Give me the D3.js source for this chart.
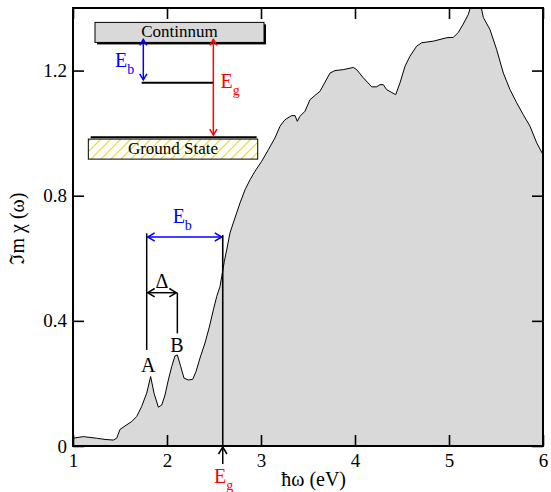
<!DOCTYPE html>
<html>
<head>
<meta charset="UTF-8">
<title>Im chi</title>
<script src="https://d3js.org/d3.v7.min.js"></script>
<style>
  body { margin: 0; background: #fff; }
</style>
</head>
<body>
<div id="chart"></div>
<script>
// spectrum
const energy = [1.0, 1.11, 1.25, 1.34, 1.43, 1.465, 1.5, 1.553, 1.624, 1.677, 1.73, 1.784, 1.826,
  1.862, 1.908, 1.944, 1.979, 2.014, 2.05, 2.085, 2.11, 2.146, 2.181, 2.227, 2.273, 2.309, 2.351,
  2.404, 2.45, 2.493, 2.529, 2.564, 2.582, 2.61, 2.635, 2.67, 2.705, 2.741, 2.777, 2.83, 2.883,
  2.936, 3.007, 3.078, 3.149, 3.202, 3.255, 3.326, 3.362, 3.386, 3.415, 3.468, 3.521,
  3.628, 3.734, 3.787, 3.876, 3.982, 4.018, 4.088, 4.178, 4.231, 4.266, 4.301, 4.337, 4.433,
  4.479, 4.532, 4.585, 4.656, 4.71, 4.833, 4.976, 5.046, 5.099, 5.152, 5.205, 5.245, 5.28,
  5.33, 5.365, 5.436, 5.507, 5.578, 5.649, 5.72, 5.79, 5.862, 5.933, 6.0];
const chi = [0.025, 0.030, 0.025, 0.021, 0.019, 0.025, 0.053, 0.064, 0.078, 0.094, 0.126, 0.169, 0.222,
  0.169, 0.124, 0.131, 0.163, 0.211, 0.254, 0.288, 0.291, 0.254, 0.217, 0.211, 0.213, 0.238, 0.281,
  0.329, 0.38, 0.435, 0.478, 0.51, 0.542, 0.59, 0.627, 0.681, 0.713, 0.745, 0.777, 0.819, 0.851,
  0.878, 0.91, 0.947, 0.985, 1.022, 1.043, 1.056, 1.056, 1.038, 1.054, 1.07, 1.107,
  1.134, 1.192, 1.2, 1.203, 1.21, 1.203, 1.177, 1.148, 1.148, 1.155, 1.155, 1.139, 1.123,
  1.161, 1.214, 1.246, 1.278, 1.289, 1.294, 1.305, 1.306, 1.322, 1.349, 1.379, 1.42, 1.43,
  1.42, 1.37, 1.331, 1.267, 1.192, 1.139, 1.097, 1.059, 1.022, 0.969, 0.931];

const xTicks = [1, 2, 3, 4, 5, 6];
const yTicks = [0, 0.4, 0.8, 1.2];
const yTickLabels = ["0", "0.4", "0.8", "1.2"];

// annotation positions (data units)
const peakA = 1.784, peakB = 2.11, gapE = 2.593;
const ebLevel = 0.668, deltaLevel = 0.49;

const FONT = '"Liberation Serif"';
const width = 551, height = 492;
const margin = {top: 8, right: 8, bottom: 46, left: 73};

const x = d3.scaleLinear().domain([1, 6]).range([margin.left, width - margin.right]);
const y = d3.scaleLinear().domain([0, 1.4]).range([height - margin.bottom, margin.top]);

const svg = d3.select('#chart').append('svg')
  .attr('width', width).attr('height', height);

const defs = svg.append('defs');
defs.append('clipPath').attr('id', 'plot')
  .append('rect')
  .attr('x', margin.left).attr('y', margin.top)
  .attr('width', width - margin.left - margin.right)
  .attr('height', height - margin.top - margin.bottom);

const hatch = defs.append('pattern').attr('id', 'hatch')
  .attr('patternUnits', 'userSpaceOnUse').attr('width', 10).attr('height', 10);
hatch.append('path')
  .attr('d', 'M-2,2 L2,-2 M0,10 L10,0 M8,12 L12,8')
  .attr('stroke', '#f2dc00').attr('stroke-width', 1.2);

const pts = energy.map((e, i) => [e, chi[i]]);

const plot = svg.append('g').attr('clip-path', 'url(#plot)');
plot.append('path')
  .datum(pts)
  .attr('fill', '#d9d9d9')
  .attr('d', d3.area().x(d => x(d[0])).y0(y(0)).y1(d => y(d[1])));
plot.append('path')
  .datum(pts)
  .attr('fill', 'none').attr('stroke', '#000').attr('stroke-width', 1)
  .attr('d', d3.line().x(d => x(d[0])).y(d => y(d[1])));

// axes
const tickLen = 11;
svg.append('g')
  .attr('transform', `translate(0,${y(0)})`)
  .call(d3.axisBottom(x).tickValues(xTicks).tickFormat(d3.format('d'))
    .tickSizeInner(-tickLen).tickSizeOuter(0).tickPadding(8));
svg.append('g')
  .attr('transform', `translate(${x(1)},0)`)
  .call(d3.axisLeft(y).tickValues(yTicks).tickFormat((d, i) => yTickLabels[i])
    .tickSizeInner(-tickLen).tickSizeOuter(0).tickPadding(6));
svg.append('g')
  .attr('transform', `translate(0,${y(1.4)})`)
  .call(d3.axisTop(x).tickValues(xTicks).tickFormat('')
    .tickSizeInner(-tickLen).tickSizeOuter(0));
svg.append('g')
  .attr('transform', `translate(${x(6)},0)`)
  .call(d3.axisRight(y).tickValues(yTicks).tickFormat('')
    .tickSizeInner(-tickLen).tickSizeOuter(0));

svg.selectAll('.domain').remove();
svg.selectAll('.tick line').attr('stroke', '#000').attr('stroke-width', 1.6);
svg.selectAll('.tick text').attr('font-size', 19).attr('fill', '#000');

svg.append('rect')
  .attr('x', x(1)).attr('y', y(1.4))
  .attr('width', x(6) - x(1)).attr('height', y(0) - y(1.4))
  .attr('fill', 'none').attr('stroke', '#000').attr('stroke-width', 2);

// axis titles
svg.append('text')
  .attr('x', x(3.56)).attr('y', 486)
  .attr('text-anchor', 'middle').attr('font-size', 20)
  .text('ħω (eV)');
svg.append('text')
  .attr('transform', `translate(24,${y(0.695)}) rotate(-90)`)
  .attr('text-anchor', 'middle').attr('font-size', 20)
  .text('ℑm χ (ω)');

// helpers
function seg(g, x1, y1, x2, y2, color, w) {
  g.append('line').attr('x1', x1).attr('y1', y1).attr('x2', x2).attr('y2', y2)
    .attr('stroke', color).attr('stroke-width', w || 1.5);
}
function head(g, tx, ty, dir, color, s) {
  // open chevron arrow head pointing in dir ('l','r','u','d')
  s = s || 6;
  let p;
  if (dir === 'r') p = [[tx - s, ty - s * 0.6], [tx, ty], [tx - s, ty + s * 0.6]];
  if (dir === 'l') p = [[tx + s, ty - s * 0.6], [tx, ty], [tx + s, ty + s * 0.6]];
  if (dir === 'u') p = [[tx - s * 0.6, ty + s], [tx, ty], [tx + s * 0.6, ty + s]];
  if (dir === 'd') p = [[tx - s * 0.6, ty - s], [tx, ty], [tx + s * 0.6, ty - s]];
  g.append('path').attr('d', d3.line()(p))
    .attr('fill', 'none').attr('stroke', color).attr('stroke-width', 1.5);
}
function label(g, px, py, main, sub, color, size) {
  const t = g.append('text').attr('x', px).attr('y', py)
    .attr('font-size', size).attr('fill', color);
  t.append('tspan').text(main);
  if (sub) t.append('tspan').attr('font-size', size * 0.7).attr('dy', size * 0.35).text(sub);
  return t;
}

const ann = svg.append('g');
const blue = '#0000ff', red = '#ff0000';

// A, B lines
seg(ann, x(peakA), y(0.307), x(peakA), y(0.68), '#000', 1.5);
seg(ann, x(peakB), y(0.36), x(peakB), y(deltaLevel), '#000', 1.5);
// delta arrow
seg(ann, x(peakA) + 1, y(deltaLevel), x(peakB) - 1, y(deltaLevel), '#000', 1.5);
head(ann, x(peakA) + 1, y(deltaLevel), 'l', '#000', 7);
head(ann, x(peakB) - 1, y(deltaLevel), 'r', '#000', 7);
ann.append('text').attr('x', x((peakA + peakB) / 2)).attr('y', y(0.505))
  .attr('text-anchor', 'middle').attr('font-size', 20).text('Δ');
ann.append('text').attr('x', x(1.8)).attr('y', y(0.237))
  .attr('text-anchor', 'middle').attr('font-size', 20).text('A');
ann.append('text').attr('x', x(2.106)).attr('y', y(0.30))
  .attr('text-anchor', 'middle').attr('font-size', 20).text('B');

// Eb arrow
seg(ann, x(peakA) + 1, y(ebLevel), x(gapE) - 1, y(ebLevel), blue, 1.5);
head(ann, x(peakA) + 1, y(ebLevel), 'l', blue, 7);
head(ann, x(gapE) - 1, y(ebLevel), 'r', blue, 7);
label(ann, x(2.06), y(0.712), 'E', 'b', blue, 20);

// Eg line and arrow below axis
seg(ann, x(gapE), y(ebLevel) - 2, x(gapE), y(0), '#000', 1.6);
seg(ann, x(gapE), y(0), x(gapE), y(0) + 18, '#000', 1.5);
head(ann, x(gapE), y(0) + 1, 'u', '#000', 7);
label(ann, x(2.5), 483, 'E', 'g', red, 20);

// inset scheme (data units)
const inset = svg.append('g');
const cx0 = 1.234, cx1 = 3.032, cyTop = 1.354, cyBot = 1.290;
inset.append('rect')
  .attr('x', x(cx0) + 2).attr('y', y(cyTop) + 2)
  .attr('width', x(cx1) - x(cx0)).attr('height', y(cyBot) - y(cyTop))
  .attr('fill', '#000');
inset.append('rect')
  .attr('x', x(cx0)).attr('y', y(cyTop))
  .attr('width', x(cx1) - x(cx0)).attr('height', y(cyBot) - y(cyTop))
  .attr('fill', '#d9d9d9').attr('stroke', '#000').attr('stroke-width', 1);
inset.append('text').attr('x', x((cx0 + cx1) / 2)).attr('y', y(cyTop) + 15)
  .attr('text-anchor', 'middle').attr('font-size', 17).text('Continnum');

const gx0 = 1.163, gx1 = 2.965, gyTop = 0.981, gyBot = 0.917;
seg(inset, x(1.188), y(0.987), x(2.954), y(0.987), '#000', 2);
inset.append('rect')
  .attr('x', x(gx0)).attr('y', y(gyTop))
  .attr('width', x(gx1) - x(gx0)).attr('height', y(gyBot) - y(gyTop))
  .attr('fill', 'url(#hatch)').attr('stroke', '#000').attr('stroke-width', 1);
inset.append('text').attr('x', x((gx0 + gx1) / 2)).attr('y', y(gyTop) + 15)
  .attr('text-anchor', 'middle').attr('font-size', 17).text('Ground State');

// exciton level
const exLevel = 1.161;
seg(inset, x(1.731), y(exLevel), x(2.493), y(exLevel), '#000', 2);
// Eb (blue)
const ebX = 1.748;
seg(inset, x(ebX), y(cyBot) - 3, x(ebX), y(exLevel) - 3, blue, 1.5);
head(inset, x(ebX), y(cyBot) - 3, 'u', blue, 6);
head(inset, x(ebX), y(exLevel) - 3, 'd', blue, 6);
label(inset, x(1.447), y(1.21), 'E', 'b', blue, 20);
// Eg (red)
const egX = 2.493;
seg(inset, x(egX), y(cyBot) - 3, x(egX), y(gyTop) - 4, red, 1.5);
head(inset, x(egX), y(cyBot) - 3, 'u', red, 6);
head(inset, x(egX), y(gyTop) - 4, 'd', red, 6);
label(inset, x(2.57), y(1.144), 'E', 'g', red, 20);

// serif everywhere
svg.selectAll('g').attr('font-family', null);
svg.selectAll('text').style('font-family', FONT).attr('font-family', 'Liberation Serif');
</script>
</body>
</html>
